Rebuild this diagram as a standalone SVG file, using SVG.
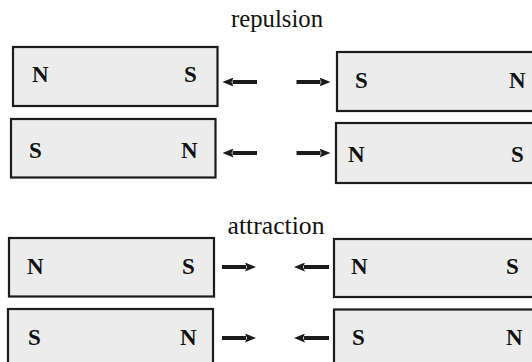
<svg xmlns="http://www.w3.org/2000/svg" width="532" height="362" viewBox="0 0 532 362">
<defs>
<style>
.bar{fill:#ececec;stroke:#1c1c1c;stroke-width:2.2}
.pole{font-family:'Liberation Serif','Times New Roman',serif;font-weight:700;font-size:23px;fill:#111111}
.title{font-family:'Liberation Serif','Times New Roman',serif;font-size:25px;fill:#111111;text-anchor:middle}
.arr{stroke:#1a1a1a;stroke-width:4;fill:none;marker-end:url(#ah)}
</style>
<marker id="ah" markerUnits="userSpaceOnUse" viewBox="0 0 11 9" markerWidth="11" markerHeight="9" refX="1" refY="4.5" orient="auto">
<path d="M0,0 L11,4.5 L0,9 L2,4.5 z" fill="#1a1a1a"/>
</marker>
</defs>
<rect width="532" height="362" fill="#ffffff"/>
<text class="title" x="277" y="27" textLength="92" lengthAdjust="spacingAndGlyphs">repulsion</text>
<text class="title" x="276" y="234" textLength="97" lengthAdjust="spacingAndGlyphs">attraction</text>
<g id="m1L"><rect class="bar" x="13" y="47" width="204.5" height="59"/><text class="pole" x="32" y="82">N</text><text class="pole" x="184" y="82">S</text></g>
<g id="m1R"><rect class="bar" x="337" y="52" width="205" height="59"/><text class="pole" x="355" y="88">S</text><text class="pole" x="509" y="88">N</text></g>
<g id="m2L"><rect class="bar" x="11" y="119" width="204.5" height="58.5"/><text class="pole" x="29" y="158">S</text><text class="pole" x="181" y="158">N</text></g>
<g id="m2R"><rect class="bar" x="336" y="123" width="206" height="60"/><text class="pole" x="348" y="162">N</text><text class="pole" x="511" y="162">S</text></g>
<g id="m3L"><rect class="bar" x="9" y="238" width="205" height="58.5"/><text class="pole" x="27" y="274">N</text><text class="pole" x="182" y="274">S</text></g>
<g id="m3R"><rect class="bar" x="334" y="239" width="208" height="58"/><text class="pole" x="351" y="274">N</text><text class="pole" x="506" y="274">S</text></g>
<g id="m4L"><rect class="bar" x="8" y="309" width="205" height="62"/><text class="pole" x="28" y="345">S</text><text class="pole" x="180" y="345">N</text></g>
<g id="m4R"><rect class="bar" x="334" y="309.5" width="208" height="62"/><text class="pole" x="352" y="345">S</text><text class="pole" x="506" y="345">N</text></g>
<g id="connectors">
<line class="arr" x1="257" y1="82" x2="232.5" y2="82"/>
<line class="arr" x1="296.5" y1="82" x2="320.5" y2="82"/>
<line class="arr" x1="257" y1="153" x2="232.5" y2="153"/>
<line class="arr" x1="296.5" y1="153" x2="320.5" y2="153"/>
<line class="arr" x1="222" y1="267" x2="246" y2="267"/>
<line class="arr" x1="329" y1="267" x2="304" y2="267"/>
<line class="arr" x1="222" y1="338" x2="246" y2="338"/>
<line class="arr" x1="329" y1="338" x2="304" y2="338"/>
</g>
</svg>
